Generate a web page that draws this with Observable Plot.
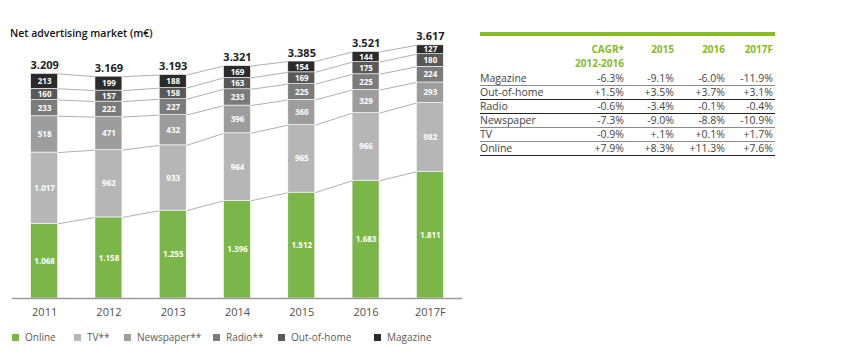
<!DOCTYPE html>
<html>
<head>
<meta charset="utf-8">
<script src="https://cdn.jsdelivr.net/npm/d3@7"></script>
<script src="https://cdn.jsdelivr.net/npm/@observablehq/plot@0.6"></script>
<style>
  html, body { margin: 0; padding: 0; background: #fff; }
  body { font-family: "Open Sans", sans-serif; width: 853px; height: 355px; position: relative; overflow: hidden; }
  #title { position: absolute; left: 10px; top: 26px; font-size: 10.5px; font-weight: 600; color: #111; }
  #chart { position: absolute; left: 0; top: 0; }
  #legend { position: absolute; left: 0; top: 330px; width: 470px; height: 16px; font-size: 10px; color: #5a5a5a; }
  .li { position: absolute; top: 0; display: flex; align-items: center; height: 14px; }
  .sw { width: 7px; height: 7px; margin-right: 6px; display: inline-block; }
  #tablewrap { position: absolute; left: 480px; top: 32px; width: 295px; }
  #greenbar { height: 4px; background: #86bc25; }
  table { border-collapse: collapse; width: 295px; table-layout: fixed; font-size: 10.5px; color: #444; }
  th { color: #86bc25; font-weight: 700; font-size: 10px; text-align: right; vertical-align: top; padding: 6px 0 2px 0; line-height: 14px; height: 28px; }
  td { height: 13px; line-height: 13px; padding: 0; text-align: right; white-space: nowrap; }
  td.lab { text-align: left; }
  td.last, th.last { padding-right: 2px; }
</style>
</head>
<body>
<div id="title">Net advertising market (m€)</div>
<div id="chart"></div>
<div id="legend"></div>
<div id="tablewrap"><div id="greenbar"></div><table id="tbl"></table></div>
<script>
// ---- Data ----
const years = ["2011", "2012", "2013", "2014", "2015", "2016", "2017F"];
const online    = [1068, 1158, 1255, 1396, 1512, 1683, 1811];
const tv        = [1017,  962,  933,  964,  965,  966,  982];
const newspaper = [ 518,  471,  432,  396,  360,  329,  293];
const radio     = [ 233,  222,  227,  233,  225,  225,  224];
const outOfHome = [ 160,  157,  158,  163,  169,  175,  180];
const magazine  = [ 213,  199,  188,  169,  154,  144,  127];
const totals    = [3209, 3169, 3193, 3321, 3385, 3521, 3617];

const seriesNames = ["Online", "TV**", "Newspaper**", "Radio**", "Out-of-home", "Magazine"];
const seriesValues = [online, tv, newspaper, radio, outOfHome, magazine];
const seriesColors = ["#7ab648", "#b6b6b6", "#9d9d9d", "#7b7b7b", "#595959", "#2b2b2b"];

// table data
const tableHeader = ["CAGR*\n2012-2016", "2015", "2016", "2017F"];
const tableRows   = ["Magazine", "Out-of-home", "Radio", "Newspaper", "TV", "Online"];
const tableCagr   = ["-6.3%", "+1.5%", "-0.6%", "-7.3%", "-0.9%", "+7.9%"];
const table2015   = ["-9.1%", "+3.5%", "-3.4%", "-9.0%", "+.1%", "+8.3%"];
const table2016   = ["-6.0%", "+3.7%", "-0.1%", "-8.8%", "+0.1%", "+11.3%"];
const table2017   = ["-11.9%", "+3.1%", "-0.4%", "-10.9%", "+1.7%", "+7.6%"];

// ---- Build stacks ----
const fmt = d3.formatLocale({thousands: ".", grouping: [3], decimal: ",", currency: ["", "€"]}).format(",d");
const halfW = 0.21;
const segs = [];
const cum = years.map(() => [0]);
years.forEach((yr, i) => {
  let base = 0;
  seriesValues.forEach((vals, k) => {
    const v = vals[i];
    segs.push({i, series: seriesNames[k], y1: base, y2: base + v, v});
    base += v;
    cum[i].push(base);
  });
});
const links = [];
for (let i = 0; i < years.length - 1; i++) {
  for (let k = 1; k <= seriesNames.length; k++) {
    links.push({x1: i + halfW, x2: i + 1 - halfW, y1: cum[i][k], y2: cum[i + 1][k]});
  }
}
const tops = years.map((yr, i) => ({i, y: cum[i][seriesNames.length], t: totals[i]}));

const chart = Plot.plot({
  width: 470,
  height: 325,
  marginLeft: 12,
  marginRight: 8,
  marginTop: 18,
  marginBottom: 27,
  style: {fontFamily: "Open Sans, sans-serif", background: "transparent"},
  x: {domain: [-0.5, years.length - 0.5], axis: null},
  y: {domain: [0, 4000], axis: null},
  color: {domain: seriesNames, range: seriesColors},
  marks: [
    Plot.link(links, {x1: "x1", x2: "x2", y1: "y1", y2: "y2", stroke: "#9b9b9b", strokeWidth: 0.8}),
    Plot.rect(segs, {x1: d => d.i - halfW, x2: d => d.i + halfW, y1: "y1", y2: "y2", fill: "series", stroke: "white", strokeWidth: 0.6}),
    Plot.text(segs, {x: "i", y: d => (d.y1 + d.y2) / 2, text: d => fmt(d.v), fill: "white", fontSize: 8, fontWeight: 700}),
    Plot.text(tops, {x: "i", y: "y", text: d => fmt(d.t), lineAnchor: "bottom", dy: -5, fontSize: 11, fontWeight: 700, fill: "#222"}),
    Plot.ruleY([0], {stroke: "#9a9a9a", strokeWidth: 1.5}),
    Plot.axisX(d3.range(years.length), {tickFormat: i => years[i], tickSize: 0, tickPadding: 10, fontSize: 11, fontWeight: 400, fill: "#505050"})
  ]
});
document.getElementById("chart").appendChild(chart);

// ---- Legend ----
const legendLeft = [12, 74, 124, 213, 278, 374];
const legend = document.getElementById("legend");
seriesNames.forEach((name, k) => {
  const it = document.createElement("div");
  it.className = "li";
  it.style.left = legendLeft[k] + "px";
  const sw = document.createElement("span");
  sw.className = "sw";
  sw.style.background = seriesColors[k];
  it.appendChild(sw);
  it.appendChild(document.createTextNode(name));
  legend.appendChild(it);
});

// ---- Table ----
const tbl = document.getElementById("tbl");
const colWidths = [94, 50, 50, 51, 50];
const cg = document.createElement("colgroup");
colWidths.forEach(w => { const c = document.createElement("col"); c.style.width = w + "px"; cg.appendChild(c); });
tbl.appendChild(cg);
const hr = document.createElement("tr");
hr.appendChild(document.createElement("th"));
tableHeader.forEach((h, j) => {
  const th = document.createElement("th");
  th.innerHTML = h.replace("\n", "<br>");
  if (j === tableHeader.length - 1) th.className = "last";
  hr.appendChild(th);
});
tbl.appendChild(hr);
const rowBorders = ["#8a8a8a", "#222", "#222", "#8a8a8a", "#8a8a8a", "#222"];
tableRows.forEach((r, k) => {
  const tr = document.createElement("tr");
  tr.style.borderBottom = "1px solid " + rowBorders[k];
  const cells = [r, tableCagr[k], table2015[k], table2016[k], table2017[k]];
  cells.forEach((c, j) => {
    const td = document.createElement("td");
    td.textContent = c;
    if (j === 0) td.className = "lab";
    if (j === cells.length - 1) td.className = "last";
    tr.appendChild(td);
  });
  tbl.appendChild(tr);
});
</script>
</body>
</html>
